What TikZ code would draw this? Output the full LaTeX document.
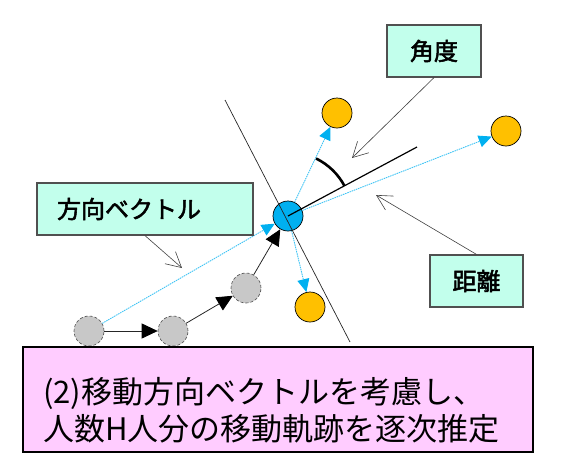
\documentclass[tikz,border=0pt]{standalone}
\usepackage{fontspec}
\newfontfamily\cjk{Noto Sans CJK JP}
\newfontfamily\cjkb{Noto Sans CJK JP}[FakeBold=2.2]
\usetikzlibrary{arrows.meta}
\definecolor{grayfill}{HTML}{C8C8C8}
\definecolor{bluefill}{HTML}{00B0F0}
\definecolor{cyanline}{HTML}{40C4F4}
\definecolor{orangefill}{HTML}{FFC000}
\definecolor{mint}{HTML}{C2FFEC}
\definecolor{pinkfill}{HTML}{FFCCFF}
\definecolor{boxedge}{HTML}{505050}
\begin{document}
\begin{tikzpicture}[x=1pt,y=1pt,
  graycirc/.style={circle, draw=black!70, densely dashed, fill=grayfill, minimum size=30pt, inner sep=0pt, line width=0.6pt},
  bluecirc/.style={circle, draw=black, fill=bluefill, minimum size=30pt, inner sep=0pt, line width=0.7pt},
  orangecirc/.style={circle, draw=black, fill=orangefill, minimum size=30pt, inner sep=0pt, line width=0.7pt},
  traj/.style={draw=black!85, line width=0.8pt, -{Triangle[length=16pt,width=15pt,color=black]}},
  cyanarrow/.style={draw=cyanline, line width=0.9pt, dash pattern=on 1.5pt off 0.8pt, -{Triangle[length=13pt,width=12pt,color=bluefill]}},
  labelbox/.style={draw=boxedge, fill=mint, line width=1.2pt, inner sep=0pt, font=\cjkb\fontsize{24}{28}\selectfont},
  pointer/.style={draw=black!75, line width=0.6pt, -{Straight Barb[length=15pt,width=16pt,line width=0.6pt]}}
]
\useasboundingbox (0,0) rectangle (563,-467);

% trajectory circles
\node[graycirc] (c1) at (89,-331) {};
\node[graycirc] (c2) at (173,-331) {};
\node[graycirc] (c3) at (246,-288) {};
\node[bluecirc] (p) at (288,-216) {};
\node[orangecirc] (o1) at (337,-113) {};
\node[orangecirc] (o2) at (506,-131) {};
\node[orangecirc] (o3) at (310,-307) {};

\draw[traj] (c1) -- (c2);
\draw[traj] (c2) -- (c3);
\draw[traj] (c3) -- (p);

\draw[cyanarrow] (c1) -- (p);
\draw[cyanarrow] (p) -- (o1);
\draw[cyanarrow] (p) -- (o2);
\draw[cyanarrow] (p) -- (o3);

% separator and direction line
\coordinate (sepA) at (225,-100);
\coordinate (sepB) at (350,-342);
\coordinate (dirE) at (417,-147);
\draw[black!85, line width=0.7pt] (sepA) -- (sepB);
\draw[black, line width=1.2pt] (p.center) -- (dirE);
\draw[black, line width=2.6pt] (p.center) ++(28:64) arc[start angle=28, end angle=64, radius=64];

% label boxes
\node[labelbox, minimum width=94pt, minimum height=52pt] (kakudo) at (434,-51) {角度};
\node[labelbox, minimum width=93pt, minimum height=52pt] (kyori) at (476.5,-281) {距離};
\node[labelbox, minimum width=216pt, minimum height=52pt, text width=200pt, align=left] (hoko) at (145,-209) {\hspace*{12pt}方向ベクトル};

\coordinate (tipA) at (352,-158);
\coordinate (tipB) at (376,-195);
\coordinate (tipC) at (182,-268);
\draw[pointer] (kakudo.south) -- (tipA);
\draw[pointer] (kyori.north) -- (tipB);
\draw[pointer] (hoko.south) -- (tipC);

% bottom box
\node[draw=black, fill=pinkfill, line width=1.4pt, minimum width=510pt, minimum height=105pt, inner sep=0pt] (summary) at (278,-399.5) {};
\node[anchor=west, inner sep=0pt, align=left, font=\cjk\fontsize{31}{37}\selectfont] (sumtext) at (43,-410) {(2)移動方向ベクトルを考慮し、\\人数H人分の移動軌跡を逐次推定};
\end{tikzpicture}
\end{document}
